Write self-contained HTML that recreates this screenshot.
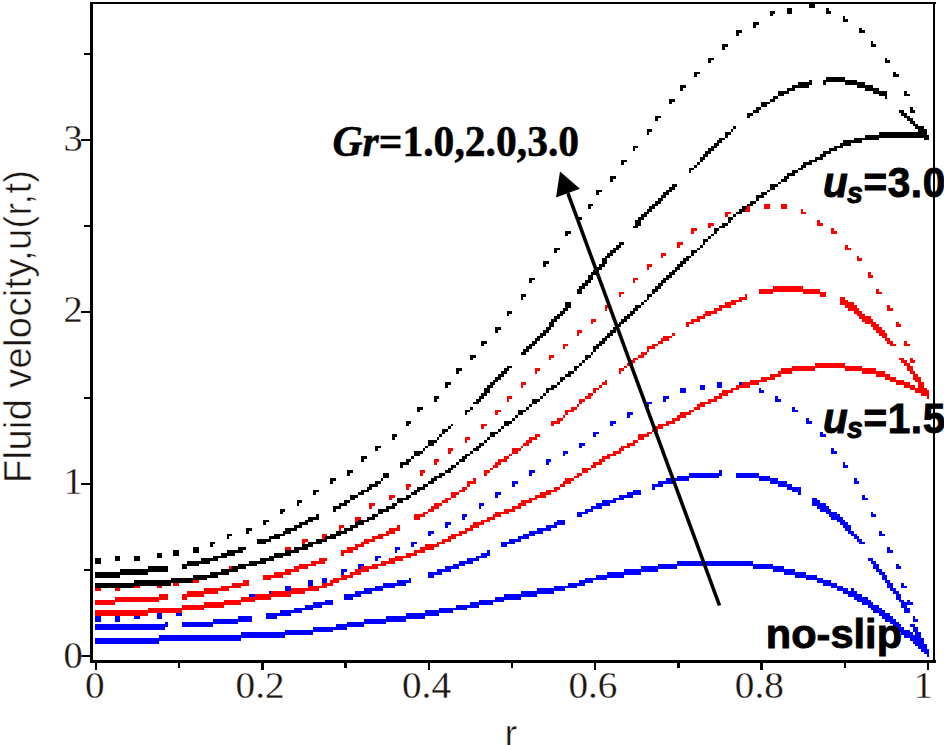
<!DOCTYPE html>
<html>
<head>
<meta charset="utf-8">
<title>Fluid velocity plot</title>
<style>
html, body { margin: 0; padding: 0; background: #ffffff; }
body { width: 944px; height: 745px; overflow: hidden; font-family: "Liberation Sans", sans-serif; }
svg { display: block; }
.tk { font-family: "Liberation Serif", serif; font-size: 37px; fill: #1c1612; stroke: #fff; stroke-width: 0.25px; }
.ax { font-family: "Liberation Sans", sans-serif; font-size: 38px; fill: #1c1612; stroke: #fff; stroke-width: 0.5px; }
.gr { font-family: "Liberation Serif", serif; font-weight: bold; font-size: 41.6px; fill: #000; stroke: #000; stroke-width: 0.5px; }
.an { font-family: "Liberation Sans", sans-serif; font-weight: bold; font-size: 40.6px; fill: #000; stroke: #000; stroke-width: 0.9px; }
</style>
</head>
<body>
<svg width="944" height="745" viewBox="0 0 944 745">
<rect x="0" y="0" width="944" height="745" fill="#ffffff"/>
<g shape-rendering="crispEdges">
<path d="M677,561h76v3h-76zM658,564h115v2h-115zM641,566h36v3h-36zM753,566h31v3h-31zM624,569h34v3h-34zM773,569h22v3h-22zM607,572h34v3h-34zM784,572h22v3h-22zM596,575h28v3h-28zM795,575h22v3h-22zM585,578h22v2h-22zM806,578h17v2h-17zM579,580h14v3h-14zM817,580h14v3h-14zM568,583h17v3h-17zM823,583h14v3h-14zM554,586h23v2h-23zM831,586h12v2h-12zM537,588h28v3h-28zM837,588h11v3h-11zM851,588h3v3h-3zM521,591h33v3h-33zM843,591h14v3h-14zM504,594h33v3h-33zM848,594h14v3h-14zM495,597h26v3h-26zM854,597h14v3h-14zM479,600h25v2h-25zM857,600h14v2h-14zM470,602h23v3h-23zM862,602h11v3h-11zM456,605h23v3h-23zM868,605h11v3h-11zM439,608h28v2h-28zM871,608h11v2h-11zM425,610h28v3h-28zM873,610h12v3h-12zM406,613h33v3h-33zM879,613h11v3h-11zM386,616h39v3h-39zM882,616h11v3h-11zM364,619h42v3h-42zM885,619h11v3h-11zM347,622h39v2h-39zM890,622h9v2h-9zM336,624h28v3h-28zM893,624h8v3h-8zM313,627h34v3h-34zM896,627h8v3h-8zM285,630h48v2h-48zM899,630h11v2h-11zM241,632h72v3h-72zM901,632h12v3h-12zM159,635h126v3h-126zM904,635h11v3h-11zM95,638h146v3h-146zM910,638h8v3h-8zM95,641h64v3h-64zM913,641h8v3h-8zM915,644h9v2h-9zM918,646h9v3h-9zM921,649h6v3h-6zM924,652h5v2h-5zM927,654h2v3h-2z" fill="#0000ff"/>
<path d="M719,470h3v3h-3zM689,473h33v3h-33zM736,473h23v3h-23zM677,476h42v2h-42zM736,476h34v2h-34zM666,478h23v3h-23zM759,478h19v3h-19zM658,481h17v3h-17zM770,481h17v3h-17zM652,484h11v3h-11zM778,484h14v3h-14zM652,487h3v3h-3zM787,487h14v3h-14zM633,490h8v2h-8zM792,490h9v2h-9zM627,492h14v3h-14zM798,492h3v3h-3zM619,495h14v3h-14zM613,498h11v2h-11zM812,498h5v2h-5zM602,500h14v3h-14zM812,500h8v3h-8zM596,503h14v3h-14zM812,503h14v3h-14zM591,506h11v3h-11zM817,506h12v3h-12zM585,509h8v3h-8zM820,509h11v3h-11zM577,512h11v2h-11zM826,512h11v2h-11zM577,514h5v3h-5zM829,514h11v3h-11zM831,517h12v3h-12zM557,520h8v2h-8zM837,520h8v2h-8zM554,522h11v3h-11zM840,522h8v3h-8zM546,525h11v3h-11zM843,525h8v3h-8zM537,528h14v3h-14zM845,528h6v3h-6zM529,531h14v3h-14zM848,531h6v3h-6zM523,534h12v2h-12zM851,534h6v2h-6zM518,536h11v3h-11zM854,536h5v3h-5zM509,539h12v3h-12zM857,539h5v3h-5zM501,542h14v2h-14zM859,542h6v2h-6zM501,544h6v3h-6zM487,550h3v3h-3zM481,553h9v3h-9zM476,556h11v2h-11zM467,558h12v3h-12zM868,558h5v3h-5zM459,561h14v3h-14zM871,561h5v3h-5zM453,564h12v2h-12zM873,564h6v2h-6zM445,566h14v3h-14zM873,566h6v3h-6zM437,569h14v3h-14zM876,569h6v3h-6zM428,572h14v3h-14zM879,572h6v3h-6zM428,575h6v3h-6zM882,575h5v3h-5zM409,578h2v2h-2zM882,578h5v2h-5zM397,580h14v3h-14zM885,580h5v3h-5zM383,583h23v3h-23zM887,583h6v3h-6zM375,586h20v2h-20zM887,586h6v2h-6zM364,588h19v3h-19zM890,588h6v3h-6zM355,591h17v3h-17zM893,591h6v3h-6zM344,594h17v3h-17zM896,594h5v3h-5zM344,597h9v3h-9zM896,597h5v3h-5zM325,600h8v2h-8zM899,600h5v2h-5zM313,602h20v3h-20zM901,602h6v3h-6zM305,605h17v3h-17zM901,605h6v3h-6zM294,608h19v2h-19zM904,608h6v2h-6zM280,610h22v3h-22zM904,610h6v3h-6zM266,613h25v3h-25zM238,616h14v3h-14zM266,616h11v3h-11zM213,619h39v3h-39zM165,622h3v2h-3zM182,622h56v2h-56zM95,624h73v3h-73zM182,624h31v3h-31zM910,624h5v3h-5zM95,627h70v3h-70zM913,627h5v3h-5zM913,630h5v2h-5zM915,632h6v3h-6zM915,635h6v3h-6zM918,638h6v3h-6zM918,641h6v3h-6zM921,644h6v2h-6zM921,646h6v3h-6zM924,649h5v3h-5zM927,652h2v2h-2zM927,654h2v3h-2z" fill="#0000ff"/>
<path d="M717,382h5v3h-5zM739,382h6v3h-6zM700,385h5v3h-5zM717,385h5v3h-5zM739,385h6v3h-6zM680,388h6v2h-6zM700,388h5v2h-5zM759,388h2v2h-2zM680,390h6v3h-6zM759,390h5v3h-5zM663,396h6v3h-6zM775,396h3v3h-3zM663,399h3v3h-3zM775,399h6v3h-6zM647,402h5v2h-5zM647,404h2v3h-2zM792,407h3v3h-3zM792,410h6v2h-6zM627,412h6v3h-6zM627,415h3v3h-3zM806,418h3v3h-3zM610,421h6v3h-6zM806,421h6v3h-6zM610,424h3v2h-3zM593,432h6v2h-6zM820,432h3v2h-3zM593,434h3v3h-3zM820,434h6v3h-6zM579,443h6v3h-6zM579,446h3v2h-3zM831,448h3v3h-3zM563,451h5v3h-5zM831,451h6v3h-6zM563,454h2v2h-2zM546,459h5v3h-5zM546,462h3v3h-3zM843,462h2v3h-2zM843,465h5v3h-5zM529,470h6v3h-6zM529,473h3v3h-3zM854,478h3v3h-3zM512,481h6v3h-6zM854,481h5v3h-5zM512,484h3v3h-3zM495,492h6v3h-6zM495,495h3v3h-3zM862,495h3v3h-3zM862,498h6v2h-6zM479,503h5v3h-5zM479,506h2v3h-2zM871,512h2v2h-2zM462,514h5v3h-5zM871,514h5v3h-5zM462,517h3v3h-3zM445,522h6v3h-6zM445,525h3v3h-3zM428,531h6v3h-6zM879,531h3v3h-3zM428,534h3v2h-3zM879,534h6v2h-6zM411,542h6v2h-6zM411,544h3v3h-3zM395,547h5v3h-5zM887,547h3v3h-3zM395,550h2v3h-2zM887,550h6v3h-6zM375,556h6v2h-6zM375,558h3v3h-3zM358,564h6v2h-6zM896,564h3v2h-3zM358,566h3v3h-3zM896,566h5v3h-5zM341,569h6v3h-6zM341,572h3v3h-3zM322,578h5v2h-5zM308,580h5v3h-5zM322,580h5v3h-5zM308,583h5v3h-5zM901,583h3v3h-3zM285,586h6v2h-6zM901,586h6v2h-6zM285,588h6v3h-6zM269,591h5v3h-5zM249,594h6v3h-6zM269,594h5v3h-5zM249,597h6v3h-6zM232,600h6v2h-6zM907,600h3v2h-3zM213,602h5v3h-5zM232,602h6v3h-6zM907,602h6v3h-6zM193,605h6v3h-6zM213,605h5v3h-5zM193,608h6v2h-6zM176,610h6v3h-6zM134,613h6v3h-6zM157,613h5v3h-5zM176,613h6v3h-6zM95,616h6v3h-6zM115,616h5v3h-5zM134,616h6v3h-6zM157,616h5v3h-5zM913,616h2v3h-2zM95,619h6v3h-6zM115,619h5v3h-5zM913,619h5v3h-5zM918,635h3v3h-3zM918,638h6v3h-6z" fill="#0000ff"/>
<path d="M815,363h30v3h-30zM792,366h70v2h-70zM781,368h34v3h-34zM845,368h31v3h-31zM778,371h14v3h-14zM862,371h23v3h-23zM770,374h11v3h-11zM876,374h14v3h-14zM761,377h14v3h-14zM885,377h11v3h-11zM750,380h17v2h-17zM890,380h14v2h-14zM742,382h17v3h-17zM896,382h14v3h-14zM736,385h14v3h-14zM904,385h11v3h-11zM731,388h8v2h-8zM910,388h11v2h-11zM722,390h11v3h-11zM915,390h12v3h-12zM719,393h9v3h-9zM921,393h8v3h-8zM714,396h8v3h-8zM927,396h2v3h-2zM708,399h9v3h-9zM700,402h11v2h-11zM697,404h8v3h-8zM694,407h6v3h-6zM689,410h5v2h-5zM680,412h11v3h-11zM677,415h9v3h-9zM672,418h8v3h-8zM666,421h9v3h-9zM658,424h11v2h-11zM655,426h8v3h-8zM652,429h6v3h-6zM647,432h5v2h-5zM638,434h11v3h-11zM638,437h6v3h-6zM633,440h5v3h-5zM627,443h8v3h-8zM621,446h9v2h-9zM619,448h5v3h-5zM613,451h8v3h-8zM607,454h9v2h-9zM602,456h8v3h-8zM599,459h6v3h-6zM593,462h9v3h-9zM591,465h5v3h-5zM582,468h9v2h-9zM582,470h6v3h-6zM577,473h5v3h-5zM574,476h5v2h-5zM565,478h9v3h-9zM563,481h8v3h-8zM560,484h5v3h-5zM554,487h6v3h-6zM546,490h11v2h-11zM540,492h11v3h-11zM535,495h11v3h-11zM529,498h8v2h-8zM521,500h11v3h-11zM518,503h8v3h-8zM512,506h9v3h-9zM504,509h11v3h-11zM495,512h14v2h-14zM493,514h8v3h-8zM487,517h8v3h-8zM481,520h9v2h-9zM473,522h11v3h-11zM470,525h9v3h-9zM465,528h8v3h-8zM459,531h8v3h-8zM451,534h11v2h-11zM448,536h8v3h-8zM442,539h9v3h-9zM437,542h8v2h-8zM425,544h14v3h-14zM420,547h14v3h-14zM414,550h11v3h-11zM406,553h11v3h-11zM395,556h16v2h-16zM389,558h14v3h-14zM381,561h14v3h-14zM372,564h14v2h-14zM361,566h17v3h-17zM355,569h14v3h-14zM350,572h11v3h-11zM341,575h12v3h-12zM333,578h14v2h-14zM330,580h9v3h-9zM322,583h11v3h-11zM308,586h19v2h-19zM291,588h28v3h-28zM271,591h34v3h-34zM255,594h36v3h-36zM241,597h30v3h-30zM224,600h31v2h-31zM204,602h37v3h-37zM182,605h42v3h-42zM148,608h56v2h-56zM95,610h87v3h-87zM95,613h53v3h-53z" fill="#ff0000"/>
<path d="M773,286h30v3h-30zM759,289h61v3h-61zM759,292h14v2h-14zM803,292h23v2h-23zM745,294h2v3h-2zM820,294h6v3h-6zM739,297h8v3h-8zM840,297h5v3h-5zM731,300h11v2h-11zM840,300h8v2h-8zM725,302h11v3h-11zM840,302h14v3h-14zM719,305h12v3h-12zM845,305h12v3h-12zM714,308h8v3h-8zM848,308h11v3h-11zM705,311h12v3h-12zM854,311h8v3h-8zM703,314h8v2h-8zM857,314h8v2h-8zM697,316h8v3h-8zM859,316h12v3h-12zM691,319h9v3h-9zM862,319h11v3h-11zM686,322h8v2h-8zM865,322h11v2h-11zM686,324h3v3h-3zM871,324h8v3h-8zM873,327h9v3h-9zM876,330h9v3h-9zM672,333h3v3h-3zM879,333h8v3h-8zM663,336h9v2h-9zM882,336h5v2h-5zM661,338h8v3h-8zM885,338h5v3h-5zM658,341h5v3h-5zM887,341h6v3h-6zM652,344h6v2h-6zM890,344h6v2h-6zM647,346h8v3h-8zM647,349h2v3h-2zM641,352h6v3h-6zM638,355h6v3h-6zM633,358h5v2h-5zM899,358h5v2h-5zM630,360h5v3h-5zM901,360h6v3h-6zM627,363h6v3h-6zM904,363h6v3h-6zM624,366h3v2h-3zM907,366h6v2h-6zM619,368h5v3h-5zM907,368h6v3h-6zM619,371h2v3h-2zM910,371h5v3h-5zM913,374h5v3h-5zM913,377h5v3h-5zM605,380h2v2h-2zM915,380h6v2h-6zM602,382h5v3h-5zM918,382h6v3h-6zM599,385h3v3h-3zM918,385h6v3h-6zM593,388h6v2h-6zM921,388h6v2h-6zM593,390h3v3h-3zM924,390h5v3h-5zM588,393h5v3h-5zM927,393h2v3h-2zM585,396h6v3h-6zM927,396h2v3h-2zM579,399h6v3h-6zM579,402h3v2h-3zM577,404h2v3h-2zM571,407h6v3h-6zM565,410h9v2h-9zM565,412h3v3h-3zM563,415h2v3h-2zM557,418h6v3h-6zM551,421h9v3h-9zM551,424h3v2h-3zM535,434h5v3h-5zM529,437h8v3h-8zM526,440h6v3h-6zM523,443h6v3h-6zM521,446h2v2h-2zM512,448h9v3h-9zM512,451h6v3h-6zM509,454h3v2h-3zM504,456h5v3h-5zM498,459h9v3h-9zM495,462h6v3h-6zM493,465h5v3h-5zM490,468h3v2h-3zM484,470h6v3h-6zM484,473h3v3h-3zM473,478h3v3h-3zM467,481h9v3h-9zM467,484h3v3h-3zM462,487h5v3h-5zM459,490h6v2h-6zM451,492h8v3h-8zM451,495h5v3h-5zM445,498h6v2h-6zM442,500h6v3h-6zM434,503h8v3h-8zM431,506h8v3h-8zM428,509h6v3h-6zM423,512h5v2h-5zM414,514h11v3h-11zM414,517h6v3h-6zM397,525h3v3h-3zM389,528h11v3h-11zM386,531h9v3h-9zM378,534h11v2h-11zM372,536h11v3h-11zM364,539h11v3h-11zM361,542h8v2h-8zM355,544h9v3h-9zM347,547h11v3h-11zM341,550h12v3h-12zM341,553h3v3h-3zM319,558h8v3h-8zM311,561h14v3h-14zM299,564h17v2h-17zM294,566h14v3h-14zM285,569h14v3h-14zM274,572h17v3h-17zM263,575h20v3h-20zM263,578h8v2h-8zM243,580h6v3h-6zM232,583h17v3h-17zM221,586h20v2h-20zM204,588h25v3h-25zM187,591h31v3h-31zM159,594h9v3h-9zM182,594h22v3h-22zM115,597h53v3h-53zM182,597h5v3h-5zM95,600h64v2h-64zM95,602h20v3h-20z" fill="#ff0000"/>
<path d="M764,204h6v2h-6zM781,204h6v2h-6zM745,206h5v3h-5zM764,206h6v3h-6zM781,206h6v3h-6zM745,209h5v3h-5zM801,209h2v3h-2zM725,212h6v2h-6zM801,212h5v2h-5zM725,214h3v3h-3zM817,220h3v3h-3zM708,223h6v3h-6zM817,223h6v3h-6zM708,226h3v2h-3zM691,228h6v3h-6zM831,228h3v3h-3zM691,231h3v3h-3zM831,231h6v3h-6zM677,242h6v3h-6zM677,245h3v3h-3zM845,245h3v3h-3zM845,248h6v2h-6zM661,253h5v3h-5zM661,256h2v2h-2zM857,256h2v2h-2zM857,258h5v3h-5zM647,264h5v3h-5zM647,267h2v3h-2zM868,272h3v3h-3zM868,275h5v3h-5zM633,278h5v2h-5zM633,280h2v3h-2zM876,289h3v3h-3zM619,292h5v2h-5zM876,292h6v2h-6zM619,294h2v3h-2zM605,305h5v3h-5zM887,305h3v3h-3zM605,308h2v3h-2zM887,308h6v3h-6zM591,319h5v3h-5zM591,322h2v2h-2zM896,322h3v2h-3zM896,324h5v3h-5zM577,330h5v3h-5zM577,333h2v3h-2zM904,341h3v3h-3zM563,344h5v2h-5zM904,344h6v2h-6zM563,346h2v3h-2zM549,355h5v3h-5zM549,358h2v2h-2zM910,358h3v2h-3zM910,360h5v3h-5zM535,368h5v3h-5zM535,371h2v3h-2zM915,374h3v3h-3zM915,377h6v3h-6zM521,382h5v3h-5zM521,385h2v3h-2zM507,396h5v3h-5zM507,399h2v3h-2zM495,410h6v2h-6zM495,412h3v3h-3zM481,424h6v2h-6zM481,426h3v3h-3zM465,437h5v3h-5zM465,440h2v3h-2zM448,448h5v3h-5zM448,451h3v3h-3zM434,459h5v3h-5zM434,462h3v3h-3zM420,470h5v3h-5zM420,473h3v3h-3zM406,484h5v3h-5zM406,487h3v3h-3zM389,495h6v3h-6zM389,498h3v2h-3zM369,503h6v3h-6zM369,506h3v3h-3zM355,517h6v3h-6zM355,520h3v2h-3zM339,525h5v3h-5zM339,528h2v3h-2zM322,534h5v2h-5zM322,536h3v3h-3zM302,539h6v3h-6zM302,542h3v2h-3zM285,547h6v3h-6zM285,550h3v3h-3zM269,556h5v2h-5zM269,558h2v3h-2zM249,561h6v3h-6zM249,564h3v2h-3zM229,566h6v3h-6zM229,569h6v3h-6zM213,572h5v3h-5zM213,575h5v3h-5zM193,578h6v2h-6zM173,580h6v3h-6zM193,580h6v3h-6zM134,583h6v3h-6zM157,583h5v3h-5zM173,583h6v3h-6zM95,586h6v2h-6zM115,586h5v2h-5zM134,586h6v2h-6zM157,586h5v2h-5zM95,588h6v3h-6zM115,588h5v3h-5z" fill="#ff0000"/>
<path d="M879,132h45v3h-45zM865,135h64v3h-64zM854,138h25v2h-25zM924,138h5v2h-5zM843,140h19v3h-19zM840,143h11v3h-11zM834,146h9v2h-9zM829,148h8v3h-8zM823,151h8v3h-8zM820,154h6v3h-6zM815,157h8v3h-8zM809,160h8v2h-8zM803,162h9v3h-9zM801,165h5v3h-5zM798,168h5v2h-5zM792,170h6v3h-6zM787,173h8v3h-8zM784,176h5v3h-5zM781,179h6v3h-6zM778,182h3v2h-3zM770,184h8v3h-8zM770,187h5v3h-5zM767,190h3v2h-3zM761,192h6v3h-6zM756,195h8v3h-8zM756,198h3v3h-3zM750,201h6v3h-6zM747,204h6v2h-6zM742,206h5v3h-5zM739,209h6v3h-6zM736,212h6v2h-6zM733,214h3v3h-3zM728,217h5v3h-5zM728,220h3v3h-3zM722,223h6v3h-6zM719,226h6v2h-6zM714,228h5v3h-5zM714,231h3v3h-3zM711,234h3v2h-3zM708,236h3v3h-3zM703,239h5v3h-5zM703,242h2v3h-2zM700,245h3v3h-3zM697,248h3v2h-3zM691,250h6v3h-6zM691,253h3v3h-3zM686,256h5v2h-5zM683,258h6v3h-6zM680,261h6v3h-6zM677,264h6v3h-6zM675,267h5v3h-5zM672,270h5v2h-5zM669,272h6v3h-6zM666,275h6v3h-6zM663,278h6v2h-6zM661,280h5v3h-5zM658,283h5v3h-5zM655,286h6v3h-6zM652,289h6v3h-6zM652,292h3v2h-3zM647,294h5v3h-5zM647,297h2v3h-2zM644,300h3v2h-3zM641,302h3v3h-3zM635,305h6v3h-6zM633,308h5v3h-5zM630,311h5v3h-5zM627,314h6v2h-6zM624,316h6v3h-6zM621,319h6v3h-6zM619,322h5v2h-5zM616,324h5v3h-5zM613,327h6v3h-6zM610,330h6v3h-6zM607,333h6v3h-6zM605,336h5v2h-5zM602,338h5v3h-5zM599,341h6v3h-6zM596,344h6v2h-6zM593,346h6v3h-6zM593,349h3v3h-3zM591,352h2v3h-2zM585,355h6v3h-6zM585,358h3v2h-3zM582,360h3v3h-3zM579,363h3v3h-3zM574,366h5v2h-5zM574,368h3v3h-3zM568,371h6v3h-6zM565,374h6v3h-6zM560,377h5v3h-5zM560,380h3v2h-3zM557,382h3v3h-3zM551,385h6v3h-6zM546,388h8v2h-8zM546,390h3v3h-3zM543,393h3v3h-3zM540,396h3v3h-3zM532,399h8v3h-8zM532,402h5v2h-5zM529,404h3v3h-3zM526,407h3v3h-3zM518,410h8v2h-8zM518,412h5v3h-5zM515,415h3v3h-3zM512,418h3v3h-3zM504,421h8v3h-8zM504,424h5v2h-5zM501,426h3v3h-3zM498,429h3v3h-3zM490,432h8v2h-8zM490,434h5v3h-5zM487,437h3v3h-3zM484,440h3v3h-3zM479,443h5v3h-5zM476,446h5v2h-5zM473,448h6v3h-6zM470,451h3v3h-3zM465,454h5v2h-5zM462,456h5v3h-5zM459,459h6v3h-6zM456,462h3v3h-3zM451,465h5v3h-5zM448,468h5v2h-5zM445,470h6v3h-6zM439,473h6v3h-6zM434,476h8v2h-8zM431,478h6v3h-6zM428,481h6v3h-6zM423,484h5v3h-5zM417,487h8v3h-8zM414,490h6v2h-6zM411,492h6v3h-6zM406,495h5v3h-5zM397,498h12v2h-12zM397,500h6v3h-6zM392,503h5v3h-5zM386,506h9v3h-9zM378,509h11v3h-11zM378,512h5v2h-5zM372,514h6v3h-6zM367,517h8v3h-8zM358,520h11v2h-11zM355,522h9v3h-9zM350,525h8v3h-8zM344,528h9v3h-9zM336,531h11v3h-11zM330,534h11v2h-11zM325,536h11v3h-11zM316,539h11v3h-11zM308,542h14v2h-14zM302,544h11v3h-11zM294,547h14v3h-14zM285,550h14v3h-14zM274,553h17v3h-17zM269,556h14v2h-14zM260,558h14v3h-14zM249,561h17v3h-17zM238,564h19v2h-19zM232,566h14v3h-14zM221,569h17v3h-17zM210,572h19v3h-19zM193,575h25v3h-25zM171,578h36v2h-36zM134,580h59v3h-59zM95,583h76v3h-76zM95,586h39v2h-39z" fill="#000000"/>
<path d="M826,77h19v3h-19zM809,80h3v2h-3zM823,80h34v2h-34zM798,82h14v3h-14zM823,82h3v3h-3zM845,82h20v3h-20zM792,85h17v3h-17zM857,85h16v3h-16zM787,88h8v3h-8zM865,88h14v3h-14zM778,91h11v3h-11zM873,91h14v3h-14zM778,94h6v2h-6zM879,94h8v2h-8zM773,96h5v3h-5zM885,96h2v3h-2zM770,99h5v3h-5zM761,102h9v2h-9zM761,104h6v3h-6zM756,107h5v3h-5zM753,110h6v3h-6zM899,110h5v3h-5zM747,113h6v3h-6zM901,113h6v3h-6zM747,116h3v2h-3zM904,116h6v2h-6zM907,118h6v3h-6zM910,121h5v3h-5zM913,124h5v2h-5zM733,126h3v3h-3zM915,126h9v3h-9zM731,129h2v3h-2zM918,129h9v3h-9zM725,132h6v3h-6zM921,132h6v3h-6zM725,135h3v3h-3zM924,135h3v3h-3zM719,138h6v2h-6zM717,140h5v3h-5zM714,143h5v3h-5zM711,146h6v2h-6zM708,148h6v3h-6zM705,151h6v3h-6zM703,154h5v3h-5zM700,157h5v3h-5zM700,160h3v2h-3zM697,162h3v3h-3zM694,165h3v3h-3zM689,168h5v2h-5zM689,170h2v3h-2zM672,184h5v3h-5zM669,187h6v3h-6zM666,190h6v2h-6zM663,192h6v3h-6zM661,195h5v3h-5zM658,198h5v3h-5zM655,201h6v3h-6zM652,204h6v2h-6zM649,206h6v3h-6zM647,209h5v3h-5zM644,212h5v2h-5zM641,214h6v3h-6zM638,217h6v3h-6zM635,220h6v3h-6zM635,223h6v3h-6zM633,226h5v2h-5zM619,242h5v3h-5zM616,245h5v3h-5zM613,248h6v2h-6zM610,250h6v3h-6zM607,253h6v3h-6zM605,256h5v2h-5zM602,258h5v3h-5zM602,261h5v3h-5zM599,264h6v3h-6zM596,267h6v3h-6zM593,270h6v2h-6zM591,272h5v3h-5zM588,275h5v3h-5zM588,278h5v2h-5zM585,280h6v3h-6zM582,283h6v3h-6zM579,286h6v3h-6zM577,289h5v3h-5zM577,292h5v2h-5zM565,302h6v3h-6zM565,305h6v3h-6zM563,308h5v3h-5zM560,311h5v3h-5zM557,314h6v2h-6zM554,316h6v3h-6zM551,319h6v3h-6zM549,322h5v2h-5zM549,324h5v3h-5zM546,327h5v3h-5zM543,330h6v3h-6zM540,333h6v3h-6zM537,336h6v2h-6zM535,338h5v3h-5zM532,341h5v3h-5zM529,344h6v2h-6zM526,346h6v3h-6zM523,349h6v3h-6zM521,352h5v3h-5zM507,366h5v2h-5zM504,368h5v3h-5zM501,371h6v3h-6zM498,374h6v3h-6zM495,377h6v3h-6zM493,380h5v2h-5zM490,382h5v3h-5zM487,385h6v3h-6zM484,388h6v2h-6zM484,390h6v3h-6zM481,393h6v3h-6zM479,396h5v3h-5zM476,399h5v3h-5zM473,402h6v2h-6zM470,407h3v3h-3zM465,410h5v2h-5zM465,412h2v3h-2zM451,424h2v2h-2zM448,426h3v3h-3zM442,429h6v3h-6zM442,432h3v2h-3zM439,434h3v3h-3zM437,437h2v3h-2zM428,440h9v3h-9zM428,443h6v3h-6zM425,446h3v2h-3zM423,448h2v3h-2zM414,451h9v3h-9zM414,454h6v2h-6zM411,456h3v3h-3zM406,459h5v3h-5zM400,462h9v3h-9zM400,465h3v3h-3zM383,473h6v3h-6zM383,476h6v2h-6zM381,478h2v3h-2zM375,481h6v3h-6zM369,484h9v3h-9zM367,487h5v3h-5zM361,490h8v2h-8zM358,492h6v3h-6zM350,495h8v3h-8zM350,498h5v2h-5zM344,500h6v3h-6zM339,503h8v3h-8zM333,506h8v3h-8zM333,509h3v3h-3zM316,514h3v3h-3zM308,517h11v3h-11zM305,520h8v2h-8zM299,522h9v3h-9zM294,525h8v3h-8zM285,528h12v3h-12zM283,531h8v3h-8zM274,534h11v2h-11zM269,536h11v3h-11zM257,539h14v3h-14zM257,542h9v2h-9zM238,547h8v3h-8zM227,550h16v3h-16zM221,553h14v3h-14zM213,556h14v2h-14zM201,558h17v3h-17zM187,561h23v3h-23zM182,564h17v2h-17zM148,566h20v3h-20zM182,566h5v3h-5zM120,569h48v3h-48zM95,572h53v3h-53zM95,575h25v3h-25z" fill="#000000"/>
<path d="M809,3h6v3h-6zM809,6h6v2h-6zM787,8h5v3h-5zM826,8h3v3h-3zM770,11h5v3h-5zM787,11h5v3h-5zM826,11h5v3h-5zM770,14h3v2h-3zM843,16h2v3h-2zM843,19h5v3h-5zM753,22h6v3h-6zM753,25h3v3h-3zM859,28h3v2h-3zM736,30h6v3h-6zM859,30h6v3h-6zM736,33h3v3h-3zM871,41h2v3h-2zM722,44h6v3h-6zM871,44h5v3h-5zM722,47h3v3h-3zM708,58h6v2h-6zM885,58h2v2h-2zM708,60h3v3h-3zM885,60h5v3h-5zM694,72h6v2h-6zM893,72h3v2h-3zM694,74h3v3h-3zM893,74h6v3h-6zM680,85h6v3h-6zM680,88h3v3h-3zM904,91h3v3h-3zM904,94h6v2h-6zM669,99h6v3h-6zM669,102h3v2h-3zM910,107h3v3h-3zM910,110h5v3h-5zM655,116h6v2h-6zM655,118h3v3h-3zM647,129h5v3h-5zM647,132h2v3h-2zM633,146h5v2h-5zM633,148h2v3h-2zM621,160h6v2h-6zM621,162h3v3h-3zM610,176h6v3h-6zM610,179h3v3h-3zM596,190h6v2h-6zM596,192h3v3h-3zM588,204h5v2h-5zM588,206h3v3h-3zM577,217h5v3h-5zM577,220h2v3h-2zM565,231h6v3h-6zM565,234h3v2h-3zM554,248h6v2h-6zM554,250h3v3h-3zM543,261h6v3h-6zM543,264h3v3h-3zM529,278h6v2h-6zM529,280h3v3h-3zM521,294h5v3h-5zM521,297h2v3h-2zM507,311h5v3h-5zM507,314h2v2h-2zM495,327h6v3h-6zM495,330h3v3h-3zM481,341h6v3h-6zM481,344h3v2h-3zM470,355h6v3h-6zM470,358h3v2h-3zM456,368h6v3h-6zM456,371h3v3h-3zM445,382h6v3h-6zM445,385h3v3h-3zM434,396h5v3h-5zM434,399h3v3h-3zM417,407h6v3h-6zM417,410h3v2h-3zM406,421h5v3h-5zM406,424h3v2h-3zM392,434h5v3h-5zM392,437h3v3h-3zM375,446h6v2h-6zM375,448h3v3h-3zM361,456h6v3h-6zM361,459h3v3h-3zM347,470h6v3h-6zM347,473h3v3h-3zM330,478h6v3h-6zM330,481h3v3h-3zM313,490h6v2h-6zM313,492h3v3h-3zM297,500h5v3h-5zM297,503h2v3h-2zM280,509h5v3h-5zM280,512h3v2h-3zM263,520h6v2h-6zM263,522h3v3h-3zM246,528h6v3h-6zM246,531h3v3h-3zM227,534h5v2h-5zM227,536h2v3h-2zM210,542h5v2h-5zM210,544h3v3h-3zM193,547h6v3h-6zM173,550h6v3h-6zM193,550h6v3h-6zM157,553h5v3h-5zM173,553h6v3h-6zM115,556h5v2h-5zM134,556h6v2h-6zM157,556h5v2h-5zM95,558h6v3h-6zM115,558h5v3h-5zM134,558h6v3h-6zM95,561h6v3h-6z" fill="#000000"/>
</g>
<g shape-rendering="crispEdges">
<rect x="90" y="2" width="3" height="661" fill="#000"/>
<rect x="90" y="660" width="846" height="3" fill="#000"/>
<rect x="90" y="2" width="846" height="2" fill="#000"/>
<rect x="933" y="2" width="2" height="661" fill="#000"/>
<rect x="94.75" y="662" width="2.5" height="8" fill="#000"/>
<rect x="177.95" y="662" width="2.5" height="5.5" fill="#000"/>
<rect x="261.15" y="662" width="2.5" height="8" fill="#000"/>
<rect x="344.35" y="662" width="2.5" height="5.5" fill="#000"/>
<rect x="427.55" y="662" width="2.5" height="8" fill="#000"/>
<rect x="510.75" y="662" width="2.5" height="5.5" fill="#000"/>
<rect x="593.95" y="662" width="2.5" height="8" fill="#000"/>
<rect x="677.15" y="662" width="2.5" height="5.5" fill="#000"/>
<rect x="760.35" y="662" width="2.5" height="8" fill="#000"/>
<rect x="843.55" y="662" width="2.5" height="5.5" fill="#000"/>
<rect x="926.75" y="662" width="2.5" height="8" fill="#000"/>
<rect x="81" y="654.50" width="9" height="2" fill="#000"/>
<rect x="84" y="568.58" width="6" height="2" fill="#000"/>
<rect x="81" y="482.67" width="9" height="2" fill="#000"/>
<rect x="84" y="396.75" width="6" height="2" fill="#000"/>
<rect x="81" y="310.83" width="9" height="2" fill="#000"/>
<rect x="84" y="224.92" width="6" height="2" fill="#000"/>
<rect x="81" y="139.00" width="9" height="2" fill="#000"/>
<rect x="84" y="53.08" width="6" height="2" fill="#000"/>
</g>
<line x1="719.5" y1="605.5" x2="567.9" y2="193.1" stroke="#000" stroke-width="3.6"/>
<polygon points="560.0,171.5 579.9,188.7 556.0,197.5" fill="#000"/>
<text class="tk" transform="translate(94.8,698) scale(1.06,1)" text-anchor="middle">0</text>
<text class="tk" transform="translate(260.1,698) scale(1.06,1)" text-anchor="middle">0.2</text>
<text class="tk" transform="translate(426.5,698) scale(1.06,1)" text-anchor="middle">0.4</text>
<text class="tk" transform="translate(592.9,698) scale(1.06,1)" text-anchor="middle">0.6</text>
<text class="tk" transform="translate(759.3,698) scale(1.06,1)" text-anchor="middle">0.8</text>
<text class="tk" transform="translate(923.4,698) scale(1.06,1)" text-anchor="middle">1</text>
<text class="tk" transform="translate(82.7,668.0) scale(1.04,1)" text-anchor="end">0</text>
<text class="tk" transform="translate(82.7,494.2) scale(1.04,1)" text-anchor="end">1</text>
<text class="tk" transform="translate(82.7,322.3) scale(1.04,1)" text-anchor="end">2</text>
<text class="tk" transform="translate(82.7,150.5) scale(1.04,1)" text-anchor="end">3</text>
<text class="ax" x="510.8" y="746.5" text-anchor="middle">r</text>
<text class="ax" transform="translate(31,483) rotate(-90)" textLength="313" lengthAdjust="spacing">Fluid velocity,u(r,t)</text>
<text class="gr" transform="translate(332.5,155.6) scale(1,1.045)"><tspan font-style="italic">Gr</tspan>=1.0,2.0,3.0</text>
<text class="an" transform="translate(822.9,197.2) scale(1,1.04)"><tspan font-style="italic">u</tspan><tspan font-style="italic" font-size="28.5" dy="5.5" dx="-0.6">s</tspan><tspan dy="-5.5" dx="0.5" letter-spacing="0.55">=3.0</tspan></text>
<text class="an" transform="translate(822.9,432.7) scale(1,1.04)"><tspan font-style="italic">u</tspan><tspan font-style="italic" font-size="28.5" dy="5.5" dx="-0.6">s</tspan><tspan dy="-5.5" dx="0.5" letter-spacing="0.55">=1.5</tspan></text>
<text class="an" transform="translate(765.8,647.6) scale(1.024,1)" font-size="41.4">no-slip</text>
</svg>
</body>
</html>
